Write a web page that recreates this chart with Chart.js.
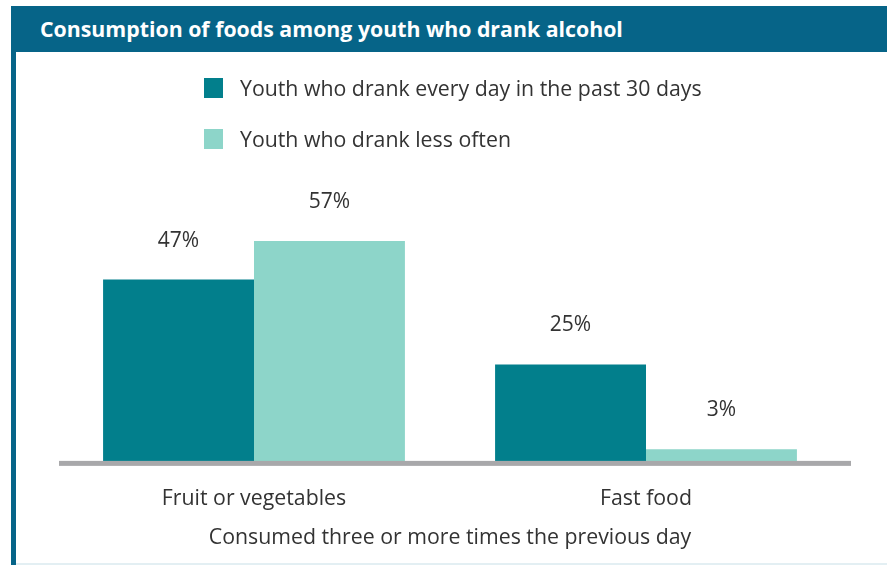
<!DOCTYPE html>
<html>
<head>
<meta charset="utf-8">
<script src="https://cdn.jsdelivr.net/npm/chart.js@4.4.0/dist/chart.umd.min.js"></script>
<style>
  html, body { margin: 0; padding: 0; background: #fff; }
  body { width: 887px; height: 565px; position: relative; overflow: hidden; font-family: "Open Sans", sans-serif; }
  #header {
    position: absolute; left: 11px; top: 6px; width: 876px; height: 46px;
    background: #066488; color: #fff; font-weight: bold; font-size: 21.3px;
    line-height: 46px; box-sizing: border-box; padding-left: 29px;
  }
  #stripe { position: absolute; left: 11px; top: 52px; width: 5px; height: 513px; background: #066488; }
  #bottomline { position: absolute; left: 16px; top: 563px; width: 871px; height: 2px; background: #e3eff3; }
  .legend { position: absolute; left: 204px; font-size: 21.3px; color: #333; }
  .legend span.sw { position: absolute; left: 0; top: 0; width: 19px; height: 20px; }
  .legend span.tx { position: absolute; left: 36px; top: -4px; white-space: nowrap; line-height: 28px; }
  #chartwrap { position: absolute; left: 0; top: 0; width: 887px; height: 565px; }
</style>
</head>
<body>
<div id="chartwrap"><canvas id="myChart" width="887" height="565"></canvas></div>
<div id="header">Consumption of foods among youth who drank alcohol</div>
<div id="stripe"></div>
<div id="bottomline"></div>
<div class="legend" style="top:78px"><span class="sw" style="background:#027f8c"></span><span class="tx">Youth who drank every day in the past 30 days</span></div>
<div class="legend" style="top:129px"><span class="sw" style="background:#8dd5c9"></span><span class="tx">Youth who drank less often</span></div>
<script>
const categories = ["Fruit or vegetables", "Fast food"];
const seriesNames = ["Youth who drank every day in the past 30 days", "Youth who drank less often"];
const dailyValues = [47, 25];
const lessOftenValues = [57, 3];
const axisTitle = "Consumed three or more times the previous day";

// value labels above bars + grey baseline
const labelPlugin = {
  id: 'valueLabels',
  afterDatasetsDraw(chart) {
    const ctx = chart.ctx;
    const area = chart.chartArea;
    ctx.save();
    ctx.fillStyle = '#a8a8aa';
    ctx.fillRect(area.left + 1, area.bottom, area.right - area.left + 8, 5);
    ctx.fillStyle = '#333';
    ctx.font = '21px "Open Sans"';
    ctx.textAlign = 'center';
    ctx.textBaseline = 'middle';
    chart.data.datasets.forEach((ds, i) => {
      chart.getDatasetMeta(i).data.forEach((bar, j) => {
        ctx.fillText(ds.data[j] + '%', bar.x, bar.y - 39);
      });
    });
    ctx.restore();
  }
};

new Chart(document.getElementById('myChart'), {
  type: 'bar',
  data: {
    labels: categories,
    datasets: [
      { label: seriesNames[0], data: dailyValues, backgroundColor: '#027f8c' },
      { label: seriesNames[1], data: lessOftenValues, backgroundColor: '#8dd5c9' }
    ]
  },
  options: {
    responsive: false,
    animation: false,
    devicePixelRatio: 1,
    categoryPercentage: 0.77,
    barPercentage: 1,
    layout: { padding: { left: 58, right: 45, top: 75, bottom: 4 } },
    plugins: { legend: { display: false }, tooltip: { enabled: false } },
    scales: {
      y: { display: false, min: 0, max: 100 },
      x: {
        grid: { display: false, drawTicks: false },
        border: { display: false },
        ticks: { color: '#333', font: { family: 'Open Sans', size: 21.3 }, padding: 25 },
        title: {
          display: true, text: axisTitle, color: '#333',
          font: { family: 'Open Sans', size: 21.3 }, padding: { top: -11, bottom: 10 }
        }
      }
    }
  },
  plugins: [labelPlugin]
});
</script>
</body>
</html>
